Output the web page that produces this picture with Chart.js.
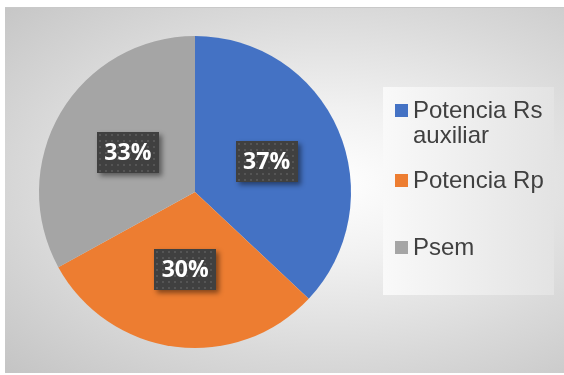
<!DOCTYPE html>
<html>
<head>
<meta charset="utf-8">
<script src="https://cdn.jsdelivr.net/npm/chart.js"></script>
<style>
  html, body { margin: 0; padding: 0; background: #fff; }
  #wrap { position: relative; width: 564px; height: 375px; overflow: hidden; }
  #bg {
    position: absolute; left: 5px; top: 7px; right: 0; bottom: 2px;
    background: radial-gradient(ellipse at 58% 48%, #ffffff 0%, #f1f1f1 28%, #d9d9d9 65%, #c4c4c4 100%);
    border-top: 1px solid #c9c9c9;
  }
  #pie { position: absolute; left: 0; top: 0; }
  #legend {
    position: absolute; left: 383px; top: 87px; width: 171px; height: 208px;
    background: linear-gradient(to right, #f9f9f9, #e3e3e3);
    font-family: "Liberation Sans", Arial, sans-serif; font-size: 24px; line-height: 25px;
    color: #404040;
  }
  .item { position: absolute; left: 12px; display: flex; align-items: flex-start; }
  .item:nth-child(1) { top: 10px; }
  .item:nth-child(2) { top: 80px; }
  .item:nth-child(3) { top: 147px; }
  .swatch { width: 13px; height: 13px; margin-top: 7px; margin-right: 5px; flex: none; }
  .text { width: 145px; }
</style>
</head>
<body>
<div id="wrap">
  <div id="bg"></div>
  <canvas id="pie" width="564" height="375"></canvas>
  <div id="legend"></div>
</div>
<script>
const labels = ['Potencia Rs auxiliar', 'Potencia Rp', 'Psem'];
const shares = [37, 30, 33];
const colors = ['#4472c4', '#ed7d31', '#a5a5a5'];

// dotted dark fill used behind the percentage labels
const tile = document.createElement('canvas');
tile.width = 6; tile.height = 6;
const tctx = tile.getContext('2d');
tctx.fillStyle = '#404040';
tctx.fillRect(0, 0, 6, 6);
tctx.fillStyle = '#555555';
tctx.fillRect(2, 2, 2, 2);

const boxLabels = {
  id: 'boxLabels',
  afterDatasetsDraw(chart) {
    const ctx = chart.ctx;
    const meta = chart.getDatasetMeta(0);
    const pattern = ctx.createPattern(tile, 'repeat');
    meta.data.forEach((arc, i) => {
      const p = arc.tooltipPosition();
      const w = 62, h = 41;
      const x = Math.round(p.x - w / 2), y = Math.round(p.y - h / 2);
      ctx.save();
      ctx.shadowColor = 'rgba(0,0,0,0.45)';
      ctx.shadowBlur = 5;
      ctx.shadowOffsetX = 3;
      ctx.shadowOffsetY = 3;
      ctx.fillStyle = '#404040';
      ctx.fillRect(x, y, w, h);
      ctx.restore();
      ctx.save();
      ctx.translate(x, y);
      ctx.fillStyle = pattern;
      ctx.fillRect(0, 0, w, h);
      ctx.restore();
      ctx.save();
      ctx.fillStyle = '#ffffff';
      ctx.font = 'bold 23px "Open Sans", sans-serif';
      ctx.textAlign = 'center';
      ctx.textBaseline = 'middle';
      ctx.fillText(shares[i] + '%', p.x, p.y + 1);
      ctx.restore();
    });
  }
};

new Chart(document.getElementById('pie'), {
  type: 'pie',
  data: {
    labels: labels,
    datasets: [{ data: shares, backgroundColor: colors, borderWidth: 0 }]
  },
  options: {
    responsive: false,
    animation: false,
    layout: { padding: { left: 39, right: 213, top: 36, bottom: 27 } },
    plugins: { legend: { display: false }, tooltip: { enabled: false } }
  },
  plugins: [boxLabels]
});

// legend on the right
const legend = document.getElementById('legend');
labels.forEach((name, i) => {
  const item = document.createElement('div');
  item.className = 'item';
  const sw = document.createElement('span');
  sw.className = 'swatch';
  sw.style.background = colors[i];
  const tx = document.createElement('span');
  tx.className = 'text';
  tx.textContent = name;
  item.appendChild(sw);
  item.appendChild(tx);
  legend.appendChild(item);
});
</script>
</body>
</html>
